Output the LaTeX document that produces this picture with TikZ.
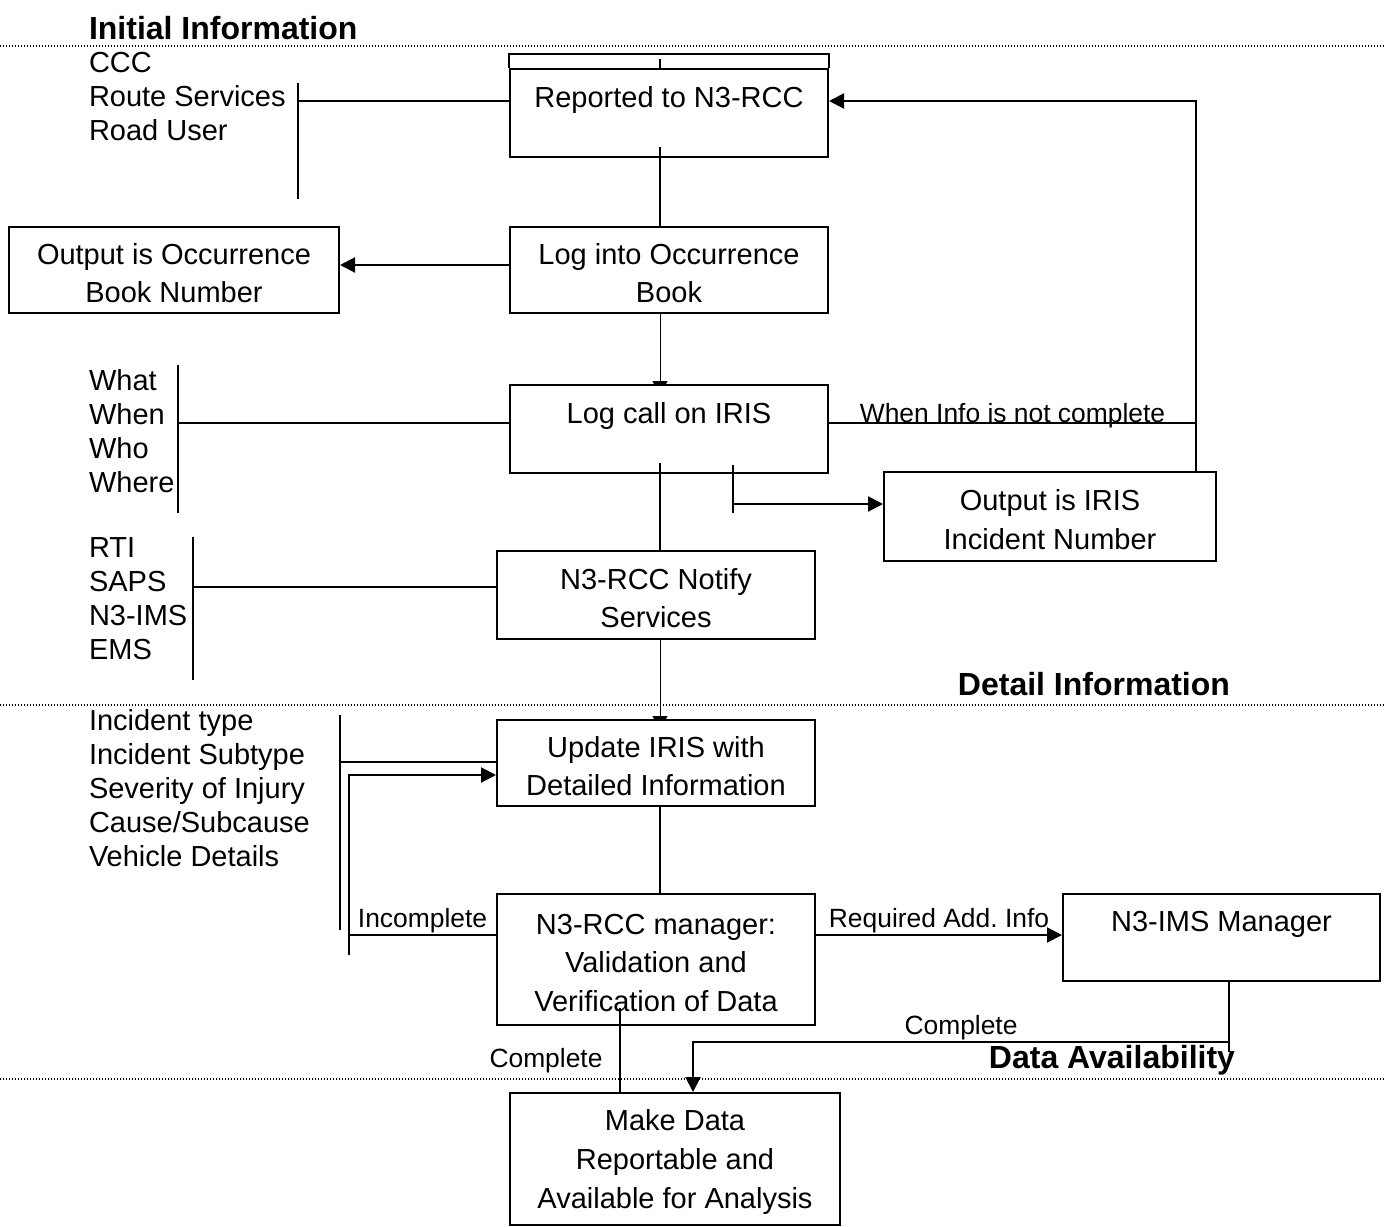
\documentclass[tikz,border=0pt]{standalone}
\usepackage{fontspec}
\setmainfont{Liberation Sans}
\usetikzlibrary{arrows.meta,backgrounds}

\newcommand{\boxstrut}{\rule{0pt}{13.5pt}}
\tikzset{every picture/.style={line width=1pt}}
\tikzset{
  procbox/.style={draw, fill=white, align=center, inner sep=0pt, font=\fontsize{14.5}{19.3}\selectfont},
  listtxt/.style={anchor=west, align=left, inner sep=0pt, font=\fontsize{14.5}{17}\selectfont},
  edgetxt/.style={inner sep=0pt, font=\fontsize{13.2}{15}\selectfont},
  headtxt/.style={inner sep=0pt, font=\fontsize{16}{19}\selectfont\bfseries},
  sepline/.style={line width=0.6pt, dash pattern=on 0.6pt off 0.9pt},
  arr/.style={-{Triangle[length=7.5pt,width=7.5pt]}}
}

\begin{document}
\begin{tikzpicture}[x=0.5pt,y=0.5pt,yscale=-1,xscale=1]
    \useasboundingbox (0,0) rectangle (1386,1226);

    %Dotted separators
    \draw[sepline] (0,46) -- (1386,46);
    \draw[sepline] (0,705) -- (1386,705);
    \draw[sepline] (0,1079) -- (1386,1079);

    % Headings
    \node[headtxt, anchor=west] (hInit) at (88,28) {Initial Information};
    \node[headtxt, anchor=east] (hDetail) at (1231,684) {Detail Information};
    \node[headtxt, anchor=east] (hAvail) at (1236,1060) {Data Availability};

    %Shape: boxes
    \node[procbox, minimum width=159pt, minimum height=44pt] (rep) at (669,113) {\boxstrut Reported to N3-RCC\\\mbox{}};
    \node[procbox, minimum width=165pt, minimum height=43pt] (occ) at (174,270) {\boxstrut Output is Occurrence\\Book Number};
    \node[procbox, minimum width=159pt, minimum height=43pt] (logbook) at (669,270) {\boxstrut Log into Occurrence\\Book};
    \node[procbox, minimum width=159pt, minimum height=44pt] (iris) at (669,429) {\boxstrut Log call on IRIS\\\mbox{}};
    \node[procbox, minimum width=166pt, minimum height=44.5pt] (irisout) at (1050,516.5) {\boxstrut Output is IRIS\\Incident Number};
    \node[procbox, minimum width=159pt, minimum height=44pt] (notify) at (656,595) {\boxstrut N3-RCC Notify\\Services};
    \node[procbox, minimum width=159pt, minimum height=43pt] (update) at (656,763) {\boxstrut Update IRIS with\\Detailed Information};
    \node[procbox, minimum width=159pt, minimum height=65.5pt] (manager) at (656,959.5) {\boxstrut N3-RCC manager:\\Validation and\\Verification of Data};
    \node[procbox, minimum width=158.5pt, minimum height=43.5pt] (imsman) at (1221.5,937.5) {\boxstrut N3-IMS Manager\\\mbox{}};
    \node[procbox, minimum width=165pt, minimum height=66pt] (report) at (675,1159) {\boxstrut Make Data\\Reportable and\\Available for Analysis};

    % Text Node: source lists
    \node[listtxt] (srcList) at (88,97) {CCC\\Route Services\\Road User};
    \node[listtxt] (callList) at (88,431) {What\\When\\Who\\Where};
    \node[listtxt] (svcList) at (88,599) {RTI\\SAPS\\N3-IMS\\EMS};
    \node[listtxt] (detList) at (88,788) {Incident type\\Incident Subtype\\Severity of Injury\\Cause/Subcause\\Vehicle Details};

    %Double top edge of first box
    \draw (rep.north west) -- ++(0,-14) -| (rep.north east);
    \coordinate (repTick) at (660,59);
    \draw (repTick) -- (repTick |- rep.north);

    %Straight Lines: brackets
    \draw (298,83) -- (298,199);
    \coordinate (bA) at (298,101);
    \draw (bA) -- (bA -| rep.west);
    \draw (178,365) -- (178,513);
    \coordinate (bE) at (178,423);
    \draw (bE) -- (bE -| iris.west);
    \draw (193,537) -- (193,680);
    \coordinate (bG) at (193,587);
    \draw (bG) -- (bG -| notify.west);
    \draw (340,715) -- (340,930);
    \coordinate (bH) at (340,762);
    \draw (bH) -- (bH -| update.west);

    %Straight Lines: main flow
    \coordinate (j1) at (660,147);
    \draw (j1) -- (j1 |- logbook.north);
    \draw[arr] ([yshift=-2.5pt]logbook.west) -- ([yshift=-2.5pt]occ.east);
    \coordinate (j2) at (660,307);
    \coordinate (j4) at (660,629);
    \begin{scope}[on background layer]
      % heads run under the box tops
      \draw[arr] (j2) -- ([yshift=6pt]j2 |- iris.north);
      \draw[arr] (j4) -- ([yshift=6pt]j4 |- update.north);
    \end{scope}
    \coordinate (j3) at (660,463);
    \draw (j3) -- (j3 |- notify.north);
    \draw ([xshift=2pt]update.south) -- ([xshift=2pt]manager.north);

    %Straight Lines: IRIS number and feedback
    \draw (733,465) -- (733,513);
    \coordinate (bF) at (733,504);
    \draw[arr] (bF) -- (bF -| irisout.west);
    \coordinate (fbk) at (1196,423);
    \coordinate (fbkTop) at (1196,101);
    \draw (fbk -| iris.east) -- node[edgetxt, anchor=base, yshift=0.5pt] {When Info is not complete} (fbk);
    \draw[arr] (fbk |- irisout.north) -- (fbkTop) -- (fbkTop -| rep.east);

    %Straight Lines: incomplete loop
    \coordinate (loopTop) at (349,775);
    \coordinate (loopBot) at (349,935);
    \coordinate (loopEnd) at (349,955);
    \draw (loopBot -| manager.west) -- node[edgetxt, anchor=base, yshift=4pt] {Incomplete} (loopBot);
    \draw[arr] (loopEnd) -- (loopTop) -- (loopTop -| update.west);

    %Straight Lines: manager outputs
    \coordinate (bJ) at (900,935);
    \draw[arr] (bJ -| manager.east) -- node[edgetxt, anchor=base, yshift=4pt] {Required Add.\ Info} (bJ -| imsman.west);
    \coordinate (cJ) at (1229,1042);
    \coordinate (cK) at (693,1042);
    \draw (cJ |- imsman.south) -- (1229,1052);
    \draw[arr] (cJ) -- node[edgetxt, anchor=base, yshift=4pt] {Complete} (cK) -- (cK |- report.north);
    \coordinate (j6) at (620,1008);
    \draw (j6) -- (j6 |- report.north);
    \node[edgetxt] (cmpl) at (546,1061) {Complete};
\end{tikzpicture}
\end{document}
